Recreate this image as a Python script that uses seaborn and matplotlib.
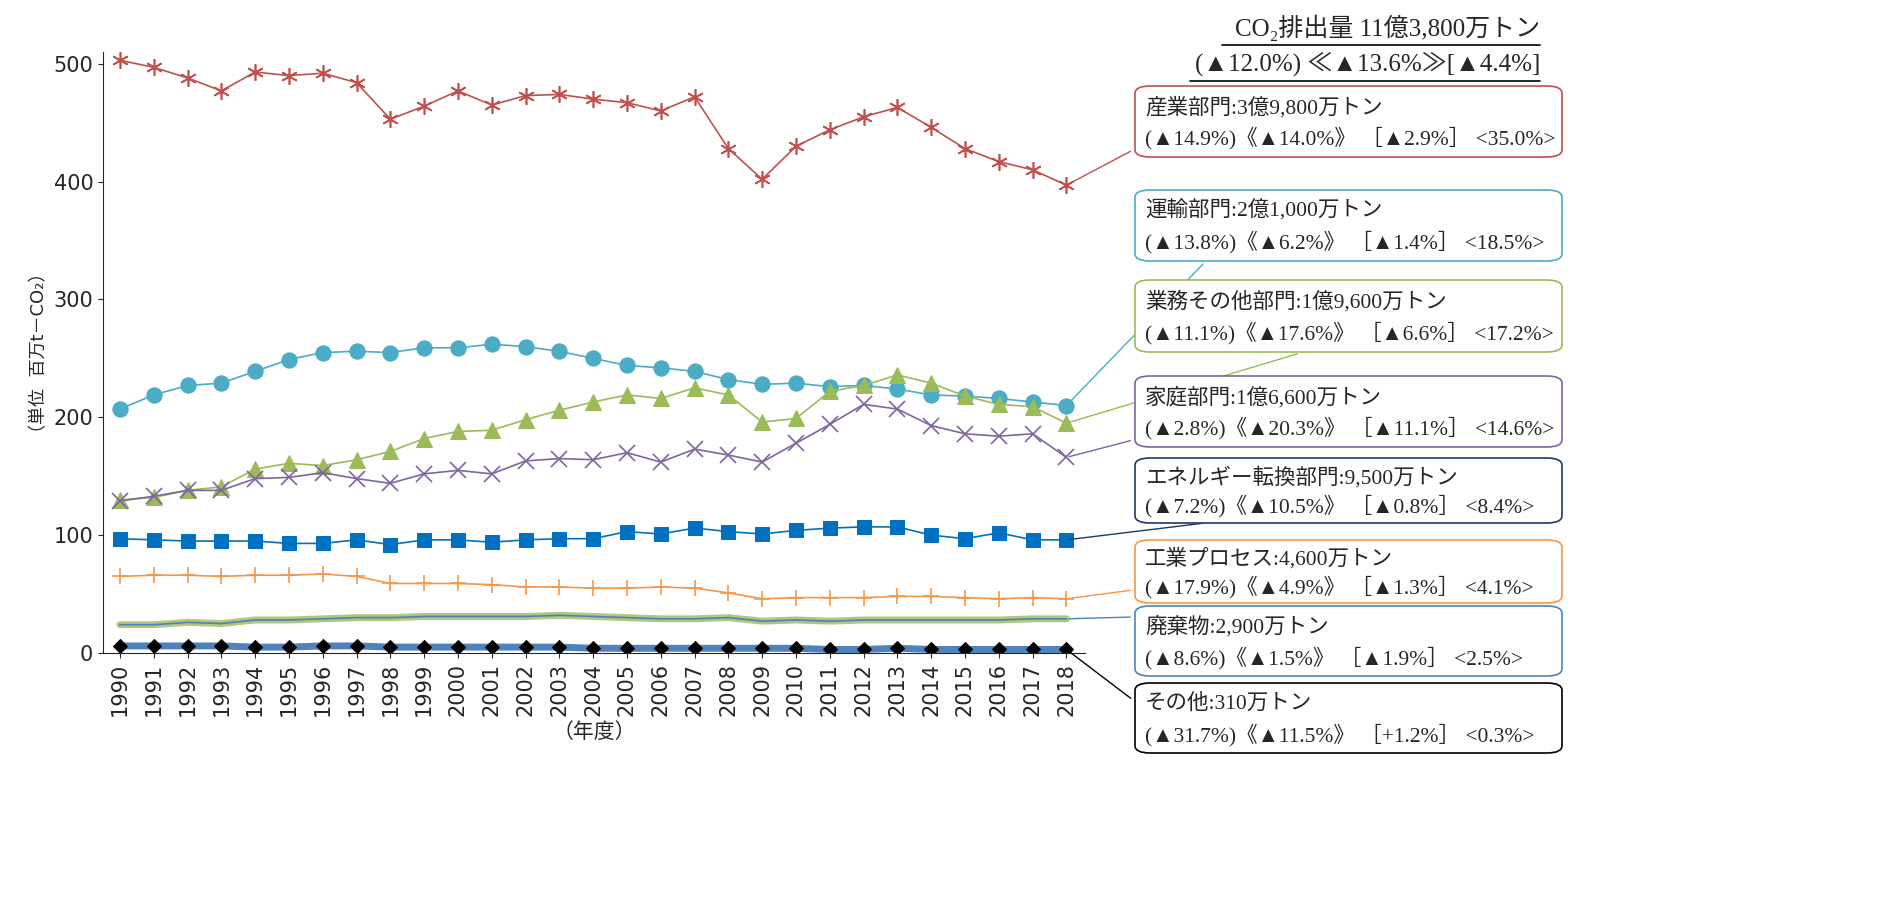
import matplotlib.pyplot as plt
import seaborn as sns
from matplotlib.patches import FancyBboxPatch

years = list(range(1990, 2019))
industry = [503, 497, 488, 477, 493, 490, 492, 484, 453, 464, 477, 465, 473, 474, 470, 467, 460, 472, 428, 402, 430, 444, 455, 463, 446, 428, 417, 410, 397]
transport = [207, 219, 227, 229, 239, 249, 255, 256, 255, 259, 259, 262, 260, 256, 250, 244, 242, 239, 232, 228, 229, 226, 227, 224, 219, 218, 216, 213, 210]
commercial = [130, 132, 138, 141, 156, 161, 159, 164, 171, 182, 188, 189, 198, 206, 213, 219, 216, 225, 219, 196, 199, 222, 227, 236, 229, 218, 211, 209, 195]
residential = [129, 133, 138, 138, 148, 149, 153, 148, 144, 152, 155, 152, 163, 165, 164, 170, 162, 173, 168, 162, 178, 194, 211, 207, 193, 186, 184, 186, 166]
energy = [97, 96, 95, 95, 95, 93, 93, 96, 92, 96, 96, 94, 96, 97, 97, 103, 101, 106, 103, 101, 104, 106, 107, 107, 100, 97, 102, 96, 96]
process = [65, 66, 66, 65, 66, 66, 67, 65, 59, 59, 59, 58, 56, 56, 55, 55, 56, 55, 51, 46, 47, 47, 47, 48, 48, 47, 46, 47, 46]
waste = [24, 24, 26, 25, 28, 28, 29, 30, 30, 31, 31, 31, 31, 32, 31, 30, 29, 29, 30, 27, 28, 27, 28, 28, 28, 28, 28, 29, 29]
other = [6, 6, 6, 6, 5, 5, 6, 6, 5, 5, 5, 5, 5, 5, 4, 4, 4, 4, 4, 4, 4, 3, 3, 4, 3, 3, 3, 3, 3]

labels = [
    ("産業部門:3億9,800万トン", "(▲14.9%)《▲14.0%》 ［▲2.9%］ <35.0%>"),
    ("運輸部門:2億1,000万トン", "(▲13.8%)《▲6.2%》 ［▲1.4%］ <18.5%>"),
    ("業務その他部門:1億9,600万トン", "(▲11.1%)《▲17.6%》 ［▲6.6%］ <17.2%>"),
    ("家庭部門:1億6,600万トン", "(▲2.8%)《▲20.3%》 ［▲11.1%］ <14.6%>"),
    ("エネルギー転換部門:9,500万トン", "(▲7.2%)《▲10.5%》 ［▲0.8%］ <8.4%>"),
    ("工業プロセス:4,600万トン", "(▲17.9%)《▲4.9%》 ［▲1.3%］ <4.1%>"),
    ("廃棄物:2,900万トン", "(▲8.6%)《▲1.5%》 ［▲1.9%］ <2.5%>"),
    ("その他:310万トン", "(▲31.7%)《▲11.5%》 ［+1.2%］ <0.3%>"),
]

sns.set_style("ticks")
plt.rcParams["font.family"] = ["DejaVu Sans", "Noto Sans CJK JP"]
serif = ["Liberation Serif", "DejaVu Serif", "Noto Sans CJK JP"]

W, H = 1883, 913
fig = plt.figure(figsize=(W / 100, H / 100), dpi=100)
ax = fig.add_axes([103 / W, 1 - 653 / H, (1085 - 103) / W, (653 - 52) / H])

def draw(y, color, **kw):
    kw.setdefault("lw", 1.2)
    sns.lineplot(x=years, y=y, ax=ax, color=color, ls="-", **kw)

draw(industry, "#C0504D", marker=(6, 2, 0), markersize=12, mec="#C0504D", mew=1.2)
draw(transport, "#4BACC6", marker="o", markersize=11, mec="#4BACC6")
draw(commercial, "#9BBB59", marker="^", markersize=11, mec="#9BBB59")
draw(residential, "#8064A2", marker="x", markersize=12, mec="#8064A2", mew=1.2)
draw(energy, "#0070C0", marker="s", markersize=10, mec="#0070C0")
draw(process, "#F79646", marker="+", markersize=12, mec="#F79646", mew=1.2)
draw(waste, "#9BBB59", lw=5, alpha=0.8)
draw(waste, "#4F81BD")
draw(other, "#4F81BD", lw=5)
draw(other, "black", marker="D", markersize=7, mec="black", lw=0)

ax.set_xlim(1989.5, 2018.55)
ax.set_ylim(0, 510)
ax.set_yticks([0, 100, 200, 300, 400, 500])
ax.set_xticks(years)
ax.set_xticklabels([str(y) for y in years], rotation=90, fontsize=15)
ax.tick_params(axis="y", labelsize=15)
for s in ["top", "right"]:
    ax.spines[s].set_visible(False)
ax.set_xlabel("（年度）", fontsize=15)
ax.set_ylabel("（単位  百万t－CO₂）", fontsize=13)

fig.text(1540 / W, 1 - 28 / H, "CO₂排出量 11億3,800万トン", ha="right", va="center",
         fontsize=18, family=serif)
fig.text(1540 / W, 1 - 64 / H, "(▲12.0%) ≪▲13.6%≫[▲4.4%]", ha="right", va="center",
         fontsize=18, family=serif)
fig.add_artist(plt.Line2D([1222 / W, 1540 / W], [1 - 45 / H] * 2, color="black", lw=1.2))
fig.add_artist(plt.Line2D([1190 / W, 1540 / W], [1 - 81 / H] * 2, color="black", lw=1.2))

boxes = [(86, 157), (190, 261), (280, 352), (376, 447), (458, 523), (540, 603), (606, 676), (683, 753)]
edges = ["#C0504D", "#4BACC6", "#9BBB59", "#8064A2", "#1F3864", "#F79646", "#4F81BD", "black"]
targets = [(1133, 150), (1205, 262), (1300, 353), (1133, 440), (1205, 523), (1133, 590), (1133, 617), (1133, 700)]
ends = [industry[-1], transport[-1], commercial[-1], residential[-1], energy[-1], process[-1], waste[-1], other[-1]]
for (t, b), ec, (tx, ty), v, (l1, l2) in zip(boxes, edges, targets, ends, labels):
    fig.add_artist(FancyBboxPatch((1135 / W, 1 - b / H), (1562 - 1135) / W, (b - t) / H,
                                  boxstyle="round,pad=0,rounding_size=0.008", fc="white",
                                  ec=ec, lw=1.2, transform=fig.transFigure, zorder=3))
    fig.text(1145 / W, 1 - (t + (b - t) * 0.3) / H, l1, fontsize=15.5, family=serif, va="center", zorder=4)
    fig.text(1145 / W, 1 - (t + (b - t) * 0.74) / H, l2, fontsize=15.5, family=serif, va="center", zorder=4)
    ax.annotate("", xy=(2018, v), xytext=(tx / W, 1 - ty / H), textcoords="figure fraction",
                arrowprops=dict(arrowstyle="-", color=ec, lw=1), annotation_clip=False)

fig.savefig("out.png", dpi=100)
